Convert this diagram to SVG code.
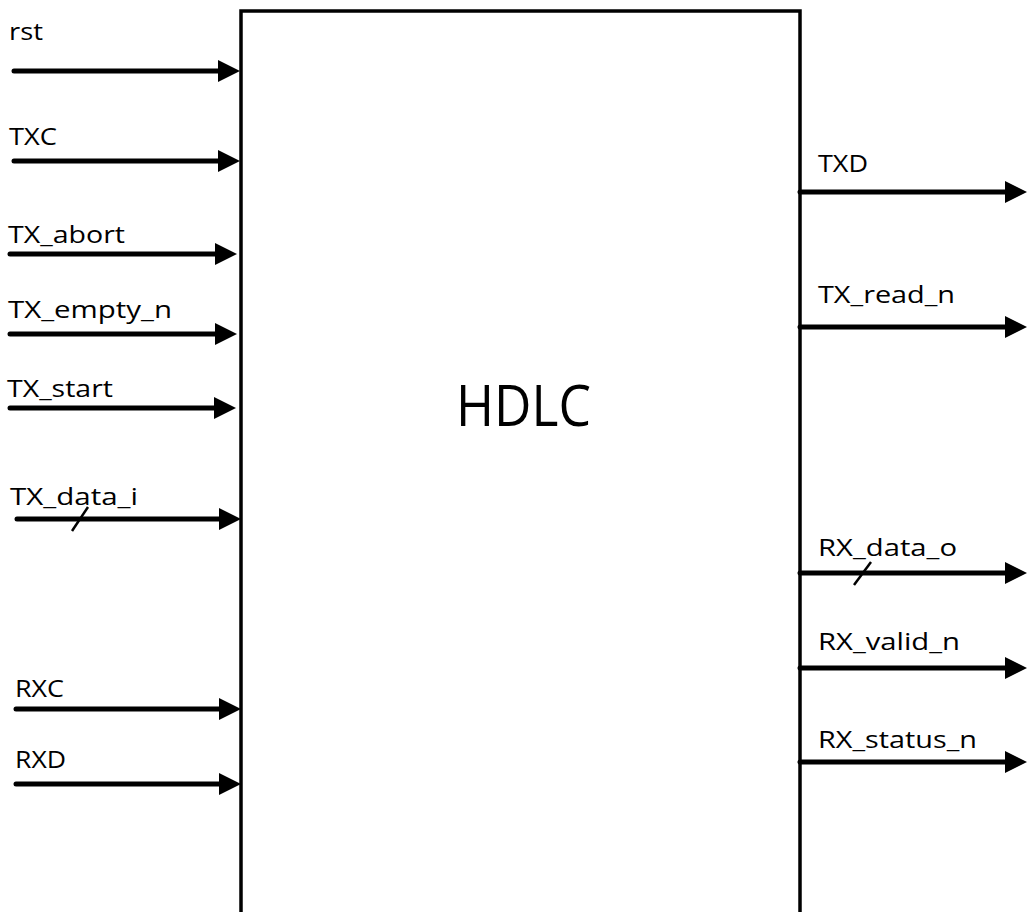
<svg xmlns="http://www.w3.org/2000/svg" width="1032" height="912" viewBox="0 0 1032 912">
<style>
.lbl{font-family:"Open Sans","Liberation Sans",sans-serif;font-size:23px;fill:#000}
.big{font-family:"Open Sans","Liberation Sans",sans-serif;font-size:57px;fill:#000}
.wire{stroke:#000;stroke-width:5;fill:none;stroke-linecap:round;marker-end:url(#ah)}
.bus{stroke:#000;stroke-width:2.5;fill:none}
</style>
<defs>
<marker id="ah" markerUnits="userSpaceOnUse" markerWidth="24" markerHeight="24" refX="12" refY="11" orient="auto">
<path d="M0,0 L22,11 L0,22 z" fill="#000"/>
</marker>
</defs>
<rect width="1032" height="912" fill="#fff"/>
<g id="hdlc">
<rect x="241" y="11" width="559" height="920" fill="#fff" stroke="#000" stroke-width="3.5"/>
<text class="big" x="456" y="426" textLength="135" lengthAdjust="spacingAndGlyphs">HDLC</text>
</g>
<g id="connectors">
<path class="wire" d="M14,71 H230"/>
<path class="wire" d="M14,161 H230"/>
<path class="wire" d="M10,254 H227"/>
<path class="wire" d="M10,334 H227"/>
<path class="wire" d="M10,408 H226"/>
<path class="wire" d="M17,519 H231"/>
<line class="bus" x1="72" y1="531" x2="88" y2="507"/>
<path class="wire" d="M16,709 H231"/>
<path class="wire" d="M16,784 H231"/>
<path class="wire" d="M800,192 H1017"/>
<path class="wire" d="M800,327 H1017"/>
<path class="wire" d="M800,573 H1017"/>
<line class="bus" x1="854" y1="585" x2="871" y2="562"/>
<path class="wire" d="M800,668 H1017"/>
<path class="wire" d="M800,762 H1017"/>
</g>
<g id="labels">
<text class="lbl" x="9" y="40" textLength="34" lengthAdjust="spacingAndGlyphs">rst</text>
<text class="lbl" x="9" y="145" textLength="48" lengthAdjust="spacingAndGlyphs">TXC</text>
<text class="lbl" x="8" y="243" textLength="117" lengthAdjust="spacingAndGlyphs">TX_abort</text>
<text class="lbl" x="8" y="318" textLength="164" lengthAdjust="spacingAndGlyphs">TX_empty_n</text>
<text class="lbl" x="7" y="397" textLength="106" lengthAdjust="spacingAndGlyphs">TX_start</text>
<text class="lbl" x="10" y="505" textLength="128" lengthAdjust="spacingAndGlyphs">TX_data_i</text>
<text class="lbl" x="15" y="697" textLength="49" lengthAdjust="spacingAndGlyphs">RXC</text>
<text class="lbl" x="15" y="768" textLength="51" lengthAdjust="spacingAndGlyphs">RXD</text>
<text class="lbl" x="818" y="172" textLength="50" lengthAdjust="spacingAndGlyphs">TXD</text>
<text class="lbl" x="818" y="303" textLength="137" lengthAdjust="spacingAndGlyphs">TX_read_n</text>
<text class="lbl" x="818" y="556" textLength="139" lengthAdjust="spacingAndGlyphs">RX_data_o</text>
<text class="lbl" x="818" y="650" textLength="142" lengthAdjust="spacingAndGlyphs">RX_valid_n</text>
<text class="lbl" x="818" y="748" textLength="159" lengthAdjust="spacingAndGlyphs">RX_status_n</text>
</g>
</svg>
